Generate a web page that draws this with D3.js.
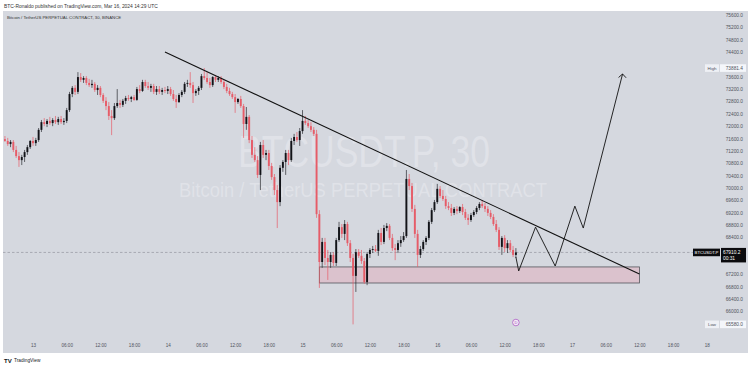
<!DOCTYPE html>
<html><head><meta charset="utf-8">
<script src="https://cdn.jsdelivr.net/npm/d3@7"></script>
<style>html,body{margin:0;padding:0;background:#fff;}svg{display:block;font-family:"Liberation Sans",Arial,sans-serif;}</style>
</head><body><svg id="c" width="750" height="368"></svg>
<script>
// ---------- DATA ----------
const startTime = Date.UTC(2024, 2, 12, 19, 0); // first 30m bar
const barMs = 30 * 60 * 1000;
const opens = [
71580,71520,71420,71490,71230,71030,70900,71000,71160,71320,
71520,71450,71550,71880,72130,72070,72170,72100,72200,72130,
72230,72130,72170,72520,73040,73240,73110,73590,73500,73560,
73400,73330,73370,73170,73240,73010,72820,72650,72330,72260,
72650,72750,72690,72820,72910,72880,72940,72850,73200,73140,
73430,73300,73240,73300,73110,73200,73110,73170,73140,73200,
73040,72880,72780,73010,73110,73370,73400,73330,73070,73140,
73240,73620,73560,73430,73330,73590,73500,73560,73430,73270,
73140,73040,72940,72780,72880,72650,72070,72300,71550,71070,
70900,70420,71390,71070,71130,70710,70350,69930,69540,70650,
70840,71130,70900,71520,71650,71550,71840,72170,72100,72000,
71880,71750,69150,67600,68250,67730,67600,67830,67570,68310,
68730,68510,68830,68210,67730,67150,67920,67800,67630,66950,
67860,67990,68020,67960,68540,68250,68700,68770,68380,68050,
67990,68210,68310,68440,70290,70060,69320,68510,67830,68020,
68250,68380,68900,69280,69540,69970,69740,69640,69410,69350,
69190,69320,69250,69380,69220,69030,68960,69120,69220,69350,
69480,69410,69320,69190,69060,68830,68640,68090,68380,68050,
68210,67990,67830];
const highs = [
71680,71620,71550,71550,71360,71160,71070,71230,71390,71550,
71650,71620,71940,72200,72260,72230,72300,72260,72330,72300,
72330,72260,72590,73110,73300,73330,73750,73720,73620,73620,
73530,73500,73430,73330,73300,73070,72940,72780,72520,72750,
73200,72850,72880,72980,73010,72980,73010,73270,73330,73500,
73500,73430,73370,73370,73300,73300,73240,73270,73300,73270,
73170,73010,73070,73170,73430,73500,73750,73430,73200,73300,
73690,73881.4,73750,73560,73620,73660,73620,73620,73500,73370,
73240,73110,73040,72910,72980,72720,72620,72360,71680,71320,
71030,71490,71550,71230,71230,70810,70450,70090,70740,70900,
71230,71230,71620,71750,71810,71940,72520,72330,72200,72130,
71970,71880,69280,68380,68380,67990,67920,67920,68380,68900,
68830,68960,68900,68310,67860,68020,68020,67990,67730,67920,
68050,68120,68150,68640,68700,68800,68860,68830,68510,68180,
68310,68440,68570,70580,70450,70160,69450,68640,68120,68310,
68440,68960,69350,69610,70130,70060,69930,69740,69540,69480,
69380,69410,69410,69480,69320,69150,69190,69280,69410,69540,
69610,69510,69410,69280,69150,68960,68730,68440,68470,68310,
68310,68120,68050];
const lows = [
71490,71360,71320,71160,70970,70680,70740,70840,71070,71260,
71360,71360,71490,71810,72000,71970,72040,72000,72070,72040,
72070,72040,72100,72460,72940,73010,73040,73430,73400,73330,
73270,73240,73110,73010,72940,72750,72520,72200,71710,72200,
72590,72590,72620,72720,72820,72780,72820,72820,73070,73110,
73240,73170,73110,73040,73010,73040,73010,73070,73040,72980,
72820,72590,72750,72940,73040,73270,73240,72750,72980,73010,
73170,73500,73370,73240,73270,73430,73430,73370,73200,73070,
72980,72880,72430,72720,72590,71620,71880,71450,70970,70840,
70320,69930,70970,70900,70580,70260,69770,68700,69410,70520,
70420,70740,70840,71390,71490,71360,71750,72040,71940,71810,
71680,69030,66760,67410,67500,67020,67410,67470,67470,68250,
68380,68310,68120,67600,65580,66630,67730,67540,66890,66850,
67730,67890,67920,67800,68150,68180,68600,68310,67960,67660,
67890,68090,68250,68380,69930,69220,68380,67440,67730,67960,
68150,68310,68830,69220,69480,69670,69580,69320,69280,69090,
69120,69150,69190,69120,68960,68800,68900,69060,69150,69280,
69350,69220,69090,68990,68770,68570,67990,67830,67920,67890,
67920,67760,67730];
const closes = [
71520,71420,71490,71230,71030,70900,71000,71160,71320,71520,
71450,71550,71880,72130,72070,72170,72100,72200,72130,72230,
72130,72170,72520,73040,73240,73110,73590,73500,73560,73400,
73330,73370,73170,73240,73010,72820,72650,72330,72260,72650,
72750,72690,72820,72910,72880,72940,72850,73200,73140,73430,
73300,73240,73300,73110,73200,73110,73170,73140,73200,73040,
72880,72780,73010,73110,73370,73400,73330,73070,73140,73240,
73620,73560,73430,73330,73590,73500,73560,73430,73270,73140,
73040,72940,72780,72880,72650,72070,72300,71550,71070,70900,
70420,71390,71070,71130,70710,70350,69930,69540,70650,70840,
71130,70900,71520,71650,71550,71840,72170,72100,72000,71880,
71750,69150,67600,68250,67730,67600,67830,67570,68310,68730,
68510,68830,68210,67730,67150,67920,67800,67630,66950,67860,
67990,68020,67960,68540,68250,68700,68770,68380,68050,67990,
68210,68310,68440,70290,70060,69320,68510,67830,68020,68250,
68380,68900,69280,69540,69970,69740,69640,69410,69350,69190,
69320,69250,69380,69220,69030,68960,69120,69220,69350,69480,
69410,69320,69190,69060,68830,68640,68090,68380,68050,68210,
67990,67830,67910.2];

// price-axis tick labels (those hidden under the High / Low / last-price tags in the reference are left out)
const priceTicks = [66000,66400,66800,67200,68400,68800,69200,69600,70000,
  70400,70800,71200,71600,72000,72400,72800,73200,73600,74400,74800,75200,75600];
const timeTickTimes = ["2024-03-13T00:00Z","2024-03-13T06:00Z","2024-03-13T12:00Z","2024-03-13T18:00Z",
  "2024-03-14T00:00Z","2024-03-14T06:00Z","2024-03-14T12:00Z","2024-03-14T18:00Z",
  "2024-03-15T00:00Z","2024-03-15T06:00Z","2024-03-15T12:00Z","2024-03-15T18:00Z",
  "2024-03-16T00:00Z","2024-03-16T06:00Z","2024-03-16T12:00Z","2024-03-16T18:00Z",
  "2024-03-17T00:00Z","2024-03-17T06:00Z","2024-03-17T12:00Z","2024-03-17T18:00Z","2024-03-18T00:00Z"];
const timeTickLabels = ["13","06:00","12:00","18:00","14","06:00","12:00","18:00","15","06:00","12:00","18:00",
  "16","06:00","12:00","18:00","17","06:00","12:00","18:00","18"];

const trendLine = [{t:"2024-03-13T23:30Z", p:74400}, {t:"2024-03-17T12:00Z", p:67210}];
const zone = {t0:"2024-03-15T03:00Z", t1:"2024-03-17T12:00Z", top:67440, bottom:66920};
const projection = [
  {t:"2024-03-16T14:00Z", p:67760}, {t:"2024-03-16T14:30Z", p:67310},
  {t:"2024-03-16T17:30Z", p:68730}, {t:"2024-03-16T21:00Z", p:67470},
  {t:"2024-03-17T00:30Z", p:69410}, {t:"2024-03-17T02:00Z", p:68700},
  {t:"2024-03-17T09:00Z", p:73690}];
const lastPrice = 67910.2, highPrice = 73881.4, lowPrice = 65580.0;
const eventMark = {t:"2024-03-16T14:00Z", p:65640};

// ---------- DRAW ----------
const svg = d3.select("#c");
const BG = "#d5d8df", RED = "#e65c68", BLK = "#121318", TXT = "#50535e";
const T = s => new Date(s);

svg.append("rect").attr("width",750).attr("height",368).attr("fill","#fff");
svg.append("rect").attr("x",3).attr("y",11).attr("width",745).attr("height",342).attr("fill",BG);

const x = d3.scaleUtc().domain([new Date(startTime), T("2024-03-18T00:00Z")]).range([4.93, 706.8]);
const y = d3.scaleLinear().domain([65600, 75600]).range([323.75, 15]);

svg.append("defs").append("clipPath").attr("id","pc").append("rect")
  .attr("x",3).attr("y",11).attr("width",697).attr("height",327);
const g = svg.append("g").attr("clip-path","url(#pc)");

// watermark
g.append("text").attr("x",364).attr("y",167).attr("text-anchor","middle")
  .attr("font-size",45).attr("fill","rgba(255,255,255,0.28)")
  .attr("textLength",252).attr("lengthAdjust","spacingAndGlyphs").text("BTCUSDT.P, 30");
g.append("text").attr("x",363).attr("y",197).attr("text-anchor","middle")
  .attr("font-size",21).attr("fill","rgba(255,255,255,0.28)")
  .attr("textLength",368).attr("lengthAdjust","spacingAndGlyphs").text("Bitcoin / TetherUS PERPETUAL CONTRACT");

// zone box
g.append("rect").attr("x",x(T(zone.t0))).attr("y",y(zone.top))
  .attr("width",x(T(zone.t1))-x(T(zone.t0))).attr("height",y(zone.bottom)-y(zone.top))
  .attr("fill","rgba(242,120,140,0.22)").attr("stroke","#55565c").attr("stroke-width",0.8);

// last price dashed line
g.append("line").attr("x1",3).attr("x2",700).attr("y1",y(lastPrice)).attr("y2",y(lastPrice))
  .attr("stroke","#8a8c94").attr("stroke-width",0.6).attr("stroke-dasharray","2.5,2");

// candles
const candles = closes.map((c,i)=>({t:new Date(startTime+i*barMs),o:opens[i],h:highs[i],l:lows[i],c}));
const cw = 1.9;
const cg = g.append("g");
cg.selectAll("line.w").data(candles).join("line")
  .attr("x1",d=>x(d.t)).attr("x2",d=>x(d.t)).attr("y1",d=>y(d.h)).attr("y2",d=>y(d.l))
  .attr("stroke",d=>d.c>=d.o?"#2a2b30":RED).attr("stroke-width",0.7);
cg.selectAll("rect.b").data(candles).join("rect")
  .attr("x",d=>x(d.t)-cw/2).attr("width",cw)
  .attr("y",d=>y(Math.max(d.o,d.c))).attr("height",d=>Math.max(0.8,Math.abs(y(d.o)-y(d.c))))
  .attr("fill",d=>d.c>=d.o?BLK:RED);

// trend line
g.append("line").attr("x1",x(T(trendLine[0].t))).attr("y1",y(trendLine[0].p))
  .attr("x2",x(T(trendLine[1].t))).attr("y2",y(trendLine[1].p))
  .attr("stroke","#111").attr("stroke-width",1.1);

// projection path
const line = d3.line().x(d=>x(T(d.t))).y(d=>y(d.p));
g.append("path").attr("d",line(projection)).attr("fill","none").attr("stroke","#111").attr("stroke-width",0.9);
const tip = projection[projection.length-1];
const tx = x(T(tip.t)), ty = y(tip.p);
g.append("path").attr("d",`M${tx-4},${ty+3.5}L${tx},${ty}L${tx+3.5},${ty+3.8}`)
  .attr("fill","none").attr("stroke","#111").attr("stroke-width",0.9);

// event marker
const ex = x(T(eventMark.t)), ey = y(eventMark.p);
g.append("circle").attr("cx",ex).attr("cy",ey).attr("r",3.3).attr("fill","#f4eaf6").attr("stroke","#a54bbf").attr("stroke-width",0.7);
g.append("text").attr("x",ex).attr("y",ey+1.5).attr("text-anchor","middle").attr("font-size",4).attr("fill","#a54bbf").text("D");

// price axis
const pa = svg.append("g").attr("transform","translate(700,0)")
  .call(d3.axisRight(y).tickValues(priceTicks).tickFormat(d=>d.toFixed(1)).tickSize(0));
pa.select(".domain").remove();
pa.selectAll("text").attr("x",43).attr("text-anchor","end").attr("font-size",4.8)
  .attr("fill",TXT).attr("font-family","Liberation Sans, Arial, sans-serif");

// time axis
const ta = svg.append("g").attr("transform","translate(0,342)")
  .call(d3.axisBottom(x).tickValues(timeTickTimes.map(T)).tickFormat((d,i)=>timeTickLabels[i]).tickSize(0));
ta.select(".domain").remove();
ta.selectAll("text").attr("y",2).attr("font-size",4.6).attr("fill",TXT)
  .attr("font-family","Liberation Sans, Arial, sans-serif");

// High / Low labels
function hlLabel(lbl, v){
  const yy = y(v);
  svg.append("rect").attr("x",705).attr("y",yy-3.8).attr("width",14).attr("height",7.6).attr("fill","#eef0f5");
  svg.append("rect").attr("x",720).attr("y",yy-3.8).attr("width",26).attr("height",7.6).attr("fill","#f4f6fa");
  svg.append("text").attr("x",712).attr("y",yy+1.6).attr("text-anchor","middle").attr("font-size",4.4).attr("fill",TXT).text(lbl);
  svg.append("text").attr("x",743).attr("y",yy+1.7).attr("text-anchor","end").attr("font-size",4.8).attr("fill",TXT).text(v.toFixed(1));
}
hlLabel("High", highPrice);
hlLabel("Low", lowPrice);

// last price labels
const ly = y(lastPrice);
svg.append("rect").attr("x",693).attr("y",ly-3.8).attr("width",27).attr("height",7.6).attr("fill","#0b0b0e");
svg.append("text").attr("x",706.5).attr("y",ly+1.6).attr("text-anchor","middle").attr("font-size",4.3).attr("fill","#fff").text("BTCUSDT.P");
svg.append("rect").attr("x",721).attr("y",ly-4.5).attr("width",25).attr("height",14.5).attr("fill","#0b0b0e");
svg.append("text").attr("x",723).attr("y",ly+1.6).attr("font-size",4.8).attr("fill","#fff").text(lastPrice.toFixed(1));
svg.append("text").attr("x",723).attr("y",ly+8).attr("font-size",4.8).attr("fill","#fff").text("00:31");

// header texts
svg.append("text").attr("x",4).attr("y",8).attr("font-size",4.9).attr("fill","#333").text("BTC-Ronaldo published on TradingView.com, Mar 16, 2024 14:29 UTC");
svg.append("text").attr("x",7).attr("y",19).attr("font-size",4.3).attr("fill","#333").text("Bitcoin / TetherUS PERPETUAL CONTRACT, 30, BINANCE");

// footer logo
svg.append("text").attr("x",4).attr("y",362.5).attr("font-size",6).attr("font-weight","bold").attr("fill","#131722").text("TV");
svg.append("text").attr("x",14).attr("y",362).attr("font-size",4.8).attr("fill","#131722").text("TradingView");
</script></body></html>
